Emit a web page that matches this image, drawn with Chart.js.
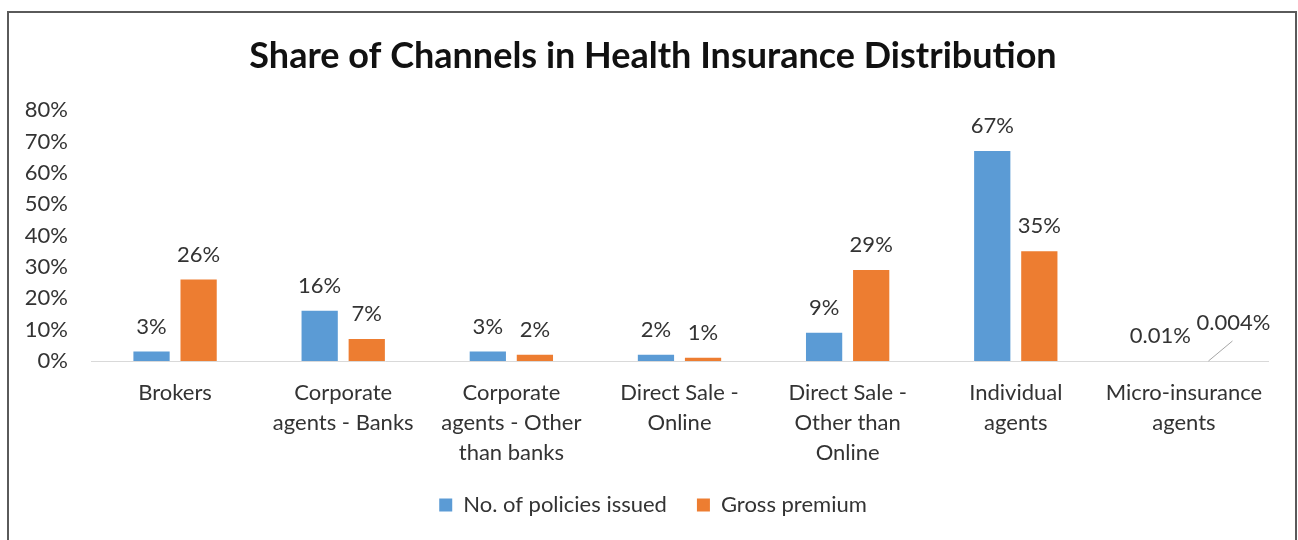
<!DOCTYPE html>
<html>
<head>
<meta charset="utf-8">
<script src="https://cdn.jsdelivr.net/npm/chart.js@4/dist/chart.umd.min.js"></script>
<style>
  html, body { margin: 0; padding: 0; background: #fff; }
  #wrap { position: relative; width: 1298px; height: 540px; }
</style>
</head>
<body>
<div id="wrap"><canvas id="c" width="1298" height="540"></canvas></div>
<script>
const categories = [
  ["Brokers"],
  ["Corporate", "agents - Banks"],
  ["Corporate", "agents - Other", "than banks"],
  ["Direct Sale -", "Online"],
  ["Direct Sale -", "Other than", "Online"],
  ["Individual", "agents"],
  ["Micro-insurance", "agents"]
];
const policiesIssued = [3, 16, 3, 2, 9, 67, 0.01];
const grossPremium = [26, 7, 2, 1, 29, 35, 0.004];
const seriesNames = ["No. of policies issued", "Gross premium"];
const yTicks = [0, 10, 20, 30, 40, 50, 60, 70, 80];

const FONT = "Lato, 'Open Sans', sans-serif";
const TEXT = "#333333";

const framePlugin = {
  id: 'frame',
  beforeDraw(chart) {
    const ctx = chart.ctx;
    ctx.save();
    ctx.fillStyle = '#ffffff';
    ctx.fillRect(0, 0, chart.width, chart.height);
    ctx.strokeStyle = '#5a5a5a';
    ctx.lineWidth = 2;
    ctx.beginPath();
    ctx.moveTo(8, 545);
    ctx.lineTo(8, 12);
    ctx.lineTo(1296, 12);
    ctx.lineTo(1296, 545);
    ctx.stroke();
    ctx.restore();
  }
};

const labelOffsets = { "1-6": { dx: 26, dy: -13, leader: true } };

const valueLabels = {
  id: 'valueLabels',
  afterDatasetsDraw(chart) {
    const ctx = chart.ctx;
    ctx.save();
    ctx.font = "22px " + FONT;
    ctx.fillStyle = TEXT;
    ctx.textAlign = 'center';
    ctx.textBaseline = 'middle';
    chart.data.datasets.forEach((ds, di) => {
      const meta = chart.getDatasetMeta(di);
      meta.data.forEach((el, i) => {
        const v = ds.data[i];
        const off = labelOffsets[di + "-" + i] || { dx: 0, dy: 0 };
        const x = el.x + off.dx;
        const y = el.y - 25 + off.dy;
        if (off.leader) {
          ctx.strokeStyle = '#a6a6a6';
          ctx.lineWidth = 1;
          ctx.beginPath();
          ctx.moveTo(el.x + 1, el.base);
          ctx.lineTo(x - 1, y + 18);
          ctx.stroke();
        }
        ctx.fillText(v + '%', x, y);
      });
    });
    ctx.restore();
  }
};

new Chart(document.getElementById('c'), {
  type: 'bar',
  data: {
    labels: categories,
    datasets: [
      { label: seriesNames[0], data: policiesIssued, backgroundColor: '#5B9BD5',
        categoryPercentage: 0.56, barPercentage: 0.77 },
      { label: seriesNames[1], data: grossPremium, backgroundColor: '#ED7D31',
        categoryPercentage: 0.56, barPercentage: 0.77 }
    ]
  },
  options: {
    responsive: false,
    animation: false,
    devicePixelRatio: 1,
    layout: { padding: { left: 8, right: 0, top: 0, bottom: 14 } },
    plugins: {
      title: {
        display: true,
        text: "Share of Channels in Health Insurance Distribution",
        color: '#111111',
        font: { family: FONT, size: 36, weight: 'bold', lineHeight: 1.2 },
        padding: { top: 35, bottom: 32 }
      },
      legend: {
        position: 'bottom',
        labels: {
          color: TEXT,
          font: { family: FONT, size: 22 },
          boxWidth: 13,
          boxHeight: 13,
          padding: 30
        }
      },
      tooltip: { enabled: false }
    },
    scales: {
      x: {
        grid: { display: false, drawTicks: false },
        border: { display: true, color: '#d9d9d9', width: 1 },
        ticks: {
          color: TEXT,
          font: { family: FONT, size: 22, lineHeight: 1.36 },
          padding: 17,
          maxRotation: 0,
          autoSkip: false
        },
        afterFit(scale) { scale.height = 103; }
      },
      y: {
        min: 0,
        max: 80,
        grid: { display: false, drawTicks: false },
        border: { display: false },
        afterBuildTicks(scale) { scale.ticks = yTicks.map(v => ({ value: v })); },
        ticks: {
          color: TEXT,
          font: { family: FONT, size: 22 },
          padding: 23,
          callback: v => v + '%'
        },
        afterFit(scale) { scale.width = 83; }
      },
      yRight: {
        type: 'linear',
        position: 'right',
        display: true,
        grid: { display: false, drawTicks: false },
        border: { display: false },
        ticks: { display: false },
        afterFit(scale) { scale.width = 30; }
      }
    }
  },
  plugins: [framePlugin, valueLabels]
});
</script>
</body>
</html>
